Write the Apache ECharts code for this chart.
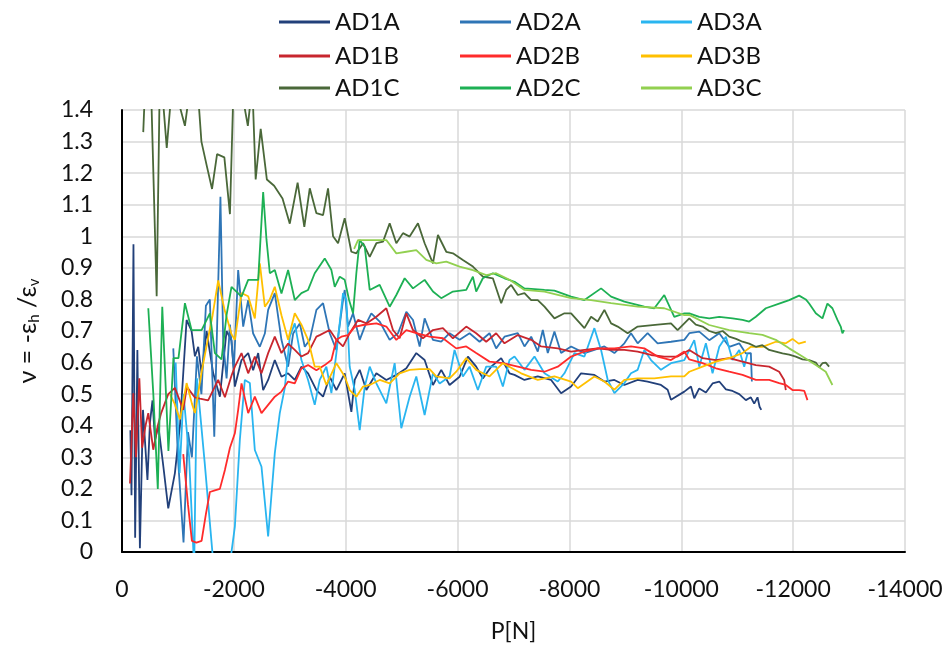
<!DOCTYPE html>
<html><head><meta charset="utf-8">
<script src="https://cdn.jsdelivr.net/npm/echarts@6/dist/echarts.min.js"></script>
<style>html,body{margin:0;padding:0;background:#fff}#c{width:949px;height:653px}</style>
</head><body><div id="c"></div>
<script>
const seriesNames = ['AD1A','AD2A','AD3A','AD1B','AD2B','AD3B','AD1C','AD2C','AD3C'];
const seriesColors = ['#22407A','#2E75B6','#29B5F0','#C8262E','#FF2B2B','#FFC000','#4A6839','#1DB054','#92D050'];

const AD1A = [[-150,0.386],[-170,0.18],[-205,0.975],[-235,0.045],[-275,0.64],[-320,0.012],[-375,0.45],[-415,0.34],[-455,0.228],[-500,0.41],[-545,0.48],[-590,0.355],[-650,0.40],[-740,0.27],[-827,0.138],[-946,0.25],[-1036,0.40],[-1155,0.735],[-1244,0.70],[-1304,0.62],[-1363,0.65],[-1423,0.566],[-1512,0.70],[-1631,0.566],[-1750,0.492],[-1869,0.70],[-1958,0.67],[-2018,0.524],[-2137,0.608],[-2256,0.63],[-2345,0.576],[-2435,0.63],[-2524,0.513],[-2613,0.545],[-2732,0.608],[-2851,0.555],[-2970,0.566],[-3089,0.545],[-3208,0.587],[-3327,0.566],[-3476,0.513],[-3595,0.492],[-3714,0.555],[-3833,0.513],[-3982,0.566],[-4101,0.444],[-4161,0.545],[-4250,0.577],[-4369,0.513],[-4548,0.566],[-4726,0.545],[-4905,0.561],[-5084,0.582],[-5262,0.63],[-5411,0.608],[-5560,0.529],[-5708,0.577],[-5857,0.529],[-6036,0.555],[-6185,0.619],[-6333,0.587],[-6452,0.55],[-6601,0.587],[-6780,0.614],[-6929,0.566],[-7018,0.561],[-7196,0.545],[-7434,0.556],[-7673,0.545],[-7851,0.503],[-8030,0.524],[-8208,0.566],[-8446,0.561],[-8625,0.54],[-8804,0.545],[-8982,0.529],[-9220,0.545],[-9398,0.54],[-9637,0.529],[-9756,0.514],[-9816,0.482],[-10054,0.508],[-10173,0.524],[-10232,0.487],[-10321,0.518],[-10440,0.505],[-10559,0.534],[-10679,0.54],[-10798,0.515],[-10916,0.51],[-11036,0.50],[-11155,0.481],[-11244,0.49],[-11304,0.47],[-11363,0.49],[-11400,0.46],[-11430,0.45]];

const AD2A = [[-917,0.645],[-1000,0.30],[-1100,0.03],[-1180,0.38],[-1250,0.30],[-1340,0.62],[-1420,0.50],[-1500,0.78],[-1571,0.80],[-1650,0.365],[-1760,1.125],[-1810,0.66],[-1870,0.55],[-1930,0.72],[-2000,0.58],[-2077,0.893],[-2167,0.714],[-2256,0.798],[-2345,0.692],[-2464,0.65],[-2554,0.692],[-2613,0.767],[-2732,0.82],[-2851,0.672],[-2970,0.587],[-3060,0.692],[-3179,0.724],[-3268,0.65],[-3357,0.672],[-3476,0.767],[-3595,0.788],[-3714,0.693],[-3833,0.64],[-3952,0.798],[-3982,0.83],[-4041,0.714],[-4131,0.756],[-4250,0.672],[-4340,0.714],[-4458,0.756],[-4607,0.73],[-4786,0.672],[-4935,0.693],[-5084,0.761],[-5203,0.735],[-5322,0.651],[-5411,0.74],[-5560,0.672],[-5708,0.666],[-5857,0.693],[-6036,0.672],[-6214,0.693],[-6393,0.666],[-6571,0.693],[-6690,0.645],[-6839,0.682],[-7077,0.693],[-7196,0.651],[-7316,0.682],[-7434,0.635],[-7524,0.703],[-7613,0.63],[-7732,0.698],[-7851,0.63],[-8030,0.651],[-8268,0.63],[-8446,0.64],[-8625,0.651],[-8804,0.63],[-8982,0.661],[-9101,0.693],[-9220,0.661],[-9398,0.693],[-9577,0.661],[-9816,0.666],[-10054,0.672],[-10143,0.693],[-10321,0.698],[-10500,0.671],[-10679,0.693],[-10857,0.65],[-11036,0.661],[-11155,0.629],[-11244,0.63],[-11262,0.54]];

const AD3A = [[-960,0.60],[-1030,0.25],[-1100,0.50],[-1200,0.30],[-1290,-0.05],[-1320,-0.05],[-1340,0.55],[-1480,0.28],[-1640,-0.05],[-1920,-0.05],[-2018,0.08],[-2107,0.355],[-2196,0.545],[-2286,0.535],[-2375,0.323],[-2494,0.27],[-2613,0.049],[-2732,0.313],[-2821,0.44],[-2911,0.52],[-3000,0.682],[-3089,0.724],[-3208,0.608],[-3327,0.545],[-3446,0.466],[-3535,0.545],[-3654,0.587],[-3744,0.503],[-3833,0.63],[-3952,0.82],[-4011,0.799],[-4071,0.587],[-4161,0.513],[-4250,0.386],[-4340,0.524],[-4429,0.587],[-4548,0.534],[-4726,0.471],[-4875,0.598],[-4994,0.392],[-5143,0.492],[-5262,0.556],[-5411,0.434],[-5560,0.566],[-5679,0.534],[-5857,0.556],[-5946,0.64],[-6095,0.556],[-6214,0.587],[-6363,0.513],[-6512,0.587],[-6690,0.587],[-6810,0.524],[-6929,0.608],[-7018,0.619],[-7196,0.577],[-7375,0.619],[-7554,0.566],[-7792,0.54],[-7911,0.566],[-8089,0.63],[-8268,0.619],[-8446,0.709],[-8566,0.64],[-8685,0.545],[-8804,0.503],[-8982,0.535],[-9101,0.566],[-9220,0.577],[-9339,0.64],[-9458,0.608],[-9637,0.577],[-9816,0.598],[-10054,0.608],[-10232,0.671],[-10321,0.587],[-10440,0.661],[-10559,0.566],[-10679,0.65],[-10798,0.682],[-10916,0.608],[-11036,0.64],[-11125,0.587],[-11184,0.629]];

const AD1B = [[-143,0.217],[-202,0.503],[-250,0.30],[-310,0.55],[-360,0.33],[-420,0.40],[-470,0.44],[-559,0.324],[-640,0.40],[-700,0.44],[-827,0.50],[-946,0.52],[-1095,0.45],[-1160,0.523],[-1300,0.49],[-1393,0.486],[-1540,0.48],[-1720,0.545],[-1840,0.49],[-1960,0.56],[-2018,0.587],[-2137,0.63],[-2256,0.566],[-2375,0.619],[-2494,0.566],[-2613,0.63],[-2732,0.682],[-2851,0.63],[-2970,0.66],[-3089,0.64],[-3208,0.619],[-3327,0.63],[-3476,0.682],[-3535,0.687],[-3714,0.703],[-3833,0.672],[-3952,0.651],[-4071,0.693],[-4220,0.735],[-4369,0.724],[-4548,0.745],[-4726,0.772],[-4845,0.703],[-4964,0.677],[-5084,0.756],[-5203,0.703],[-5381,0.677],[-5560,0.703],[-5738,0.709],[-5917,0.677],[-6155,0.714],[-6333,0.693],[-6512,0.666],[-6690,0.693],[-6839,0.661],[-7077,0.687],[-7316,0.672],[-7494,0.651],[-7792,0.645],[-8030,0.635],[-8268,0.64],[-8505,0.645],[-8745,0.64],[-8982,0.64],[-9220,0.635],[-9458,0.624],[-9696,0.619],[-9934,0.619],[-10143,0.64],[-10380,0.614],[-10619,0.608],[-10857,0.614],[-11095,0.603],[-11333,0.592],[-11571,0.587],[-11750,0.571],[-11839,0.545],[-11869,0.513]];

const AD2B = [[-1095,0.31],[-1180,0.15],[-1250,0.035],[-1330,0.03],[-1423,0.035],[-1500,0.12],[-1571,0.19],[-1660,0.195],[-1750,0.20],[-1840,0.26],[-1930,0.33],[-2018,0.376],[-2077,0.45],[-2137,0.534],[-2256,0.44],[-2375,0.492],[-2494,0.44],[-2613,0.466],[-2732,0.492],[-2851,0.508],[-2970,0.54],[-3089,0.534],[-3208,0.582],[-3327,0.592],[-3476,0.576],[-3625,0.592],[-3744,0.608],[-3833,0.672],[-3923,0.682],[-4042,0.687],[-4161,0.713],[-4310,0.719],[-4548,0.724],[-4726,0.714],[-4905,0.672],[-5084,0.703],[-5262,0.693],[-5500,0.682],[-5738,0.677],[-5976,0.645],[-6155,0.651],[-6333,0.63],[-6571,0.603],[-6810,0.598],[-7077,0.587],[-7316,0.577],[-7554,0.571],[-7792,0.587],[-8030,0.619],[-8268,0.635],[-8505,0.645],[-8804,0.645],[-9101,0.651],[-9339,0.645],[-9577,0.619],[-9816,0.608],[-10054,0.635],[-10143,0.61],[-10380,0.598],[-10619,0.582],[-10857,0.571],[-11095,0.561],[-11333,0.545],[-11571,0.545],[-11750,0.535],[-11869,0.529],[-11988,0.513],[-12107,0.513],[-12200,0.51],[-12256,0.481]];

const AD3B = [[-857,0.50],[-940,0.47],[-1036,0.42],[-1155,0.535],[-1250,0.47],[-1304,0.44],[-1423,0.57],[-1542,0.68],[-1620,0.75],[-1720,0.86],[-1830,0.77],[-1958,0.69],[-2018,0.672],[-2137,0.82],[-2256,0.81],[-2375,0.74],[-2464,0.914],[-2554,0.777],[-2643,0.80],[-2732,0.84],[-2851,0.75],[-2970,0.672],[-3089,0.756],[-3208,0.72],[-3327,0.672],[-3446,0.587],[-3535,0.587],[-3654,0.529],[-3833,0.598],[-3982,0.556],[-4071,0.513],[-4190,0.492],[-4310,0.524],[-4429,0.529],[-4607,0.545],[-4786,0.534],[-4964,0.566],[-5143,0.577],[-5322,0.579],[-5500,0.579],[-5619,0.556],[-5857,0.55],[-5976,0.571],[-6155,0.614],[-6333,0.577],[-6571,0.556],[-6810,0.598],[-7137,0.566],[-7434,0.545],[-7732,0.556],[-8030,0.54],[-8149,0.519],[-8446,0.556],[-8625,0.54],[-8804,0.514],[-8982,0.545],[-9220,0.55],[-9518,0.55],[-9816,0.556],[-10054,0.556],[-10143,0.571],[-10380,0.587],[-10619,0.603],[-10857,0.614],[-11095,0.63],[-11244,0.65],[-11452,0.65],[-11690,0.666],[-11869,0.661],[-11988,0.675],[-12100,0.66],[-12226,0.666]];

const AD1C = [[-380,1.33],[-430,1.55],[-500,1.6],[-620,0.81],[-680,1.55],[-800,1.28],[-880,1.45],[-1020,1.42],[-1125,1.35],[-1200,1.45],[-1300,1.6],[-1420,1.30],[-1520,1.22],[-1610,1.15],[-1700,1.26],[-1830,1.25],[-1930,1.07],[-1990,1.45],[-2050,1.6],[-2150,1.45],[-2250,1.35],[-2330,1.48],[-2390,1.18],[-2480,1.34],[-2590,1.18],[-2720,1.16],[-2870,1.12],[-3000,1.04],[-3140,1.17],[-3260,1.03],[-3357,1.152],[-3476,1.073],[-3595,1.067],[-3684,1.152],[-3774,1.0],[-3863,0.978],[-3982,1.057],[-4101,0.951],[-4190,0.946],[-4310,0.978],[-4429,0.935],[-4548,0.978],[-4667,0.983],[-4786,1.041],[-4905,0.978],[-5024,1.01],[-5143,0.999],[-5292,1.041],[-5411,0.978],[-5560,0.914],[-5649,1.004],[-5798,0.951],[-5917,0.946],[-6095,0.925],[-6274,0.904],[-6452,0.872],[-6631,0.867],[-6780,0.788],[-6869,0.83],[-6959,0.846],[-7077,0.814],[-7196,0.82],[-7316,0.798],[-7434,0.798],[-7554,0.777],[-7732,0.74],[-7911,0.756],[-8030,0.756],[-8268,0.709],[-8387,0.745],[-8505,0.73],[-8625,0.767],[-8745,0.724],[-8863,0.714],[-9041,0.693],[-9220,0.714],[-9577,0.72],[-9816,0.724],[-9934,0.703],[-10143,0.74],[-10260,0.72],[-10380,0.714],[-10500,0.70],[-10619,0.693],[-10740,0.70],[-10857,0.682],[-10980,0.675],[-11095,0.666],[-11214,0.66],[-11333,0.65],[-11450,0.655],[-11571,0.64],[-11690,0.635],[-11810,0.629],[-11929,0.625],[-12048,0.619],[-12167,0.61],[-12286,0.608],[-12405,0.60],[-12464,0.585],[-12524,0.598],[-12583,0.60],[-12643,0.587]];

const AD2C = [[-470,0.772],[-560,0.50],[-640,0.20],[-720,0.777],[-830,0.32],[-920,0.614],[-1010,0.614],[-1125,0.788],[-1244,0.703],[-1423,0.703],[-1571,0.756],[-1661,0.63],[-1780,0.61],[-1869,0.75],[-1958,0.84],[-2137,0.809],[-2256,0.862],[-2435,0.862],[-2524,1.14],[-2583,0.99],[-2643,0.883],[-2732,0.893],[-2851,0.819],[-2970,0.893],[-3089,0.798],[-3208,0.82],[-3327,0.83],[-3446,0.883],[-3625,0.93],[-3744,0.893],[-3804,0.84],[-3893,0.872],[-3982,0.862],[-4060,0.798],[-4131,0.756],[-4190,0.883],[-4250,0.988],[-4340,0.967],[-4429,0.83],[-4607,0.846],[-4786,0.777],[-4905,0.814],[-5054,0.867],[-5203,0.835],[-5411,0.862],[-5560,0.825],[-5708,0.804],[-5917,0.825],[-6155,0.83],[-6274,0.872],[-6333,0.825],[-6452,0.867],[-6631,0.883],[-6839,0.867],[-7018,0.856],[-7196,0.835],[-7554,0.83],[-7732,0.828],[-8030,0.809],[-8268,0.798],[-8566,0.835],[-8745,0.809],[-8982,0.793],[-9339,0.777],[-9518,0.772],[-9696,0.814],[-9875,0.745],[-10054,0.756],[-10143,0.756],[-10321,0.745],[-10500,0.74],[-10679,0.745],[-10916,0.74],[-11095,0.735],[-11214,0.73],[-11333,0.745],[-11512,0.772],[-11750,0.787],[-11929,0.798],[-12107,0.812],[-12226,0.80],[-12286,0.787],[-12405,0.756],[-12524,0.74],[-12613,0.787],[-12702,0.772],[-12792,0.735],[-12851,0.714],[-12881,0.693],[-12911,0.703]];

const AD3C = [[-4150,0.96],[-4220,0.988],[-4548,0.988],[-4726,0.988],[-4905,0.946],[-5084,0.951],[-5262,0.956],[-5441,0.925],[-5619,0.914],[-5798,0.92],[-6036,0.904],[-6274,0.893],[-6512,0.877],[-6690,0.883],[-6929,0.862],[-7196,0.83],[-7554,0.825],[-8030,0.804],[-8387,0.798],[-8745,0.788],[-9220,0.777],[-9696,0.772],[-10054,0.75],[-10143,0.751],[-10500,0.719],[-10857,0.703],[-11214,0.693],[-11452,0.688],[-11690,0.672],[-11929,0.645],[-12167,0.619],[-12405,0.592],[-12583,0.571],[-12702,0.529]];

const seriesData = [AD1A, AD2A, AD3A, AD1B, AD2B, AD3B, AD1C, AD2C, AD3C];

const FONT = 'Lato';
const TXT = '#111';
const legendCols = [279, 460, 641];
const legendRows = [22, 56, 88];

const chart = echarts.init(document.getElementById('c'), null, {renderer: 'canvas'});
chart.setOption({
  animation: false,
  backgroundColor: '#fff',
  textStyle: {fontFamily: FONT},
  grid: {left: 122, right: 44, top: 110, bottom: 101, containLabel: false},
  legend: seriesNames.map((n, i) => ({
    data: [n],
    left: legendCols[i % 3],
    top: legendRows[Math.floor(i / 3)] - 13,
    padding: 0,
    itemWidth: 51,
    itemHeight: 3,
    icon: 'rect',
    selectedMode: false,
    textStyle: {fontFamily: FONT, fontSize: 24, color: TXT, lineHeight: 26}
  })),
  xAxis: {
    type: 'value',
    min: -14000, max: 0, interval: 2000,
    inverse: true,
    name: 'P[N]',
    nameLocation: 'middle',
    nameGap: 68,
    nameTextStyle: {fontFamily: FONT, fontSize: 23, color: TXT},
    axisLine: {lineStyle: {color: '#000', width: 2}},
    axisTick: {show: false},
    axisLabel: {fontFamily: FONT, fontSize: 23, color: TXT, margin: 26, formatter: v => String(v)},
    splitLine: {show: true, lineStyle: {color: '#d9d9d9', width: 1.5}}
  },
  yAxis: {
    type: 'value',
    min: 0, max: 1.4, interval: 0.1,
    name: 'ν = -ε{s|h} /ε{s|v}',
    nameLocation: 'middle',
    nameRotate: 90,
    nameGap: 80,
    nameTextStyle: {fontFamily: FONT, fontSize: 25, color: TXT,
      rich: {s: {fontFamily: FONT, fontSize: 15, color: TXT, padding: [13, 0, 0, 0]}}},
    axisLine: {show: true, lineStyle: {color: '#000', width: 2}},
    axisTick: {show: false},
    axisLabel: {fontFamily: FONT, fontSize: 23, color: TXT, margin: 29, formatter: v => String(+v.toFixed(1))},
    splitLine: {show: true, lineStyle: {color: '#d9d9d9', width: 1.5}}
  },
  series: seriesNames.map((n, i) => ({
    name: n,
    type: 'line',
    data: seriesData[i],
    showSymbol: false,
    symbol: 'none',
    clip: true,
    color: seriesColors[i],
    lineStyle: {color: seriesColors[i], width: 1.8},
    emphasis: {disabled: true}
  }))
});
</script>
</body></html>
